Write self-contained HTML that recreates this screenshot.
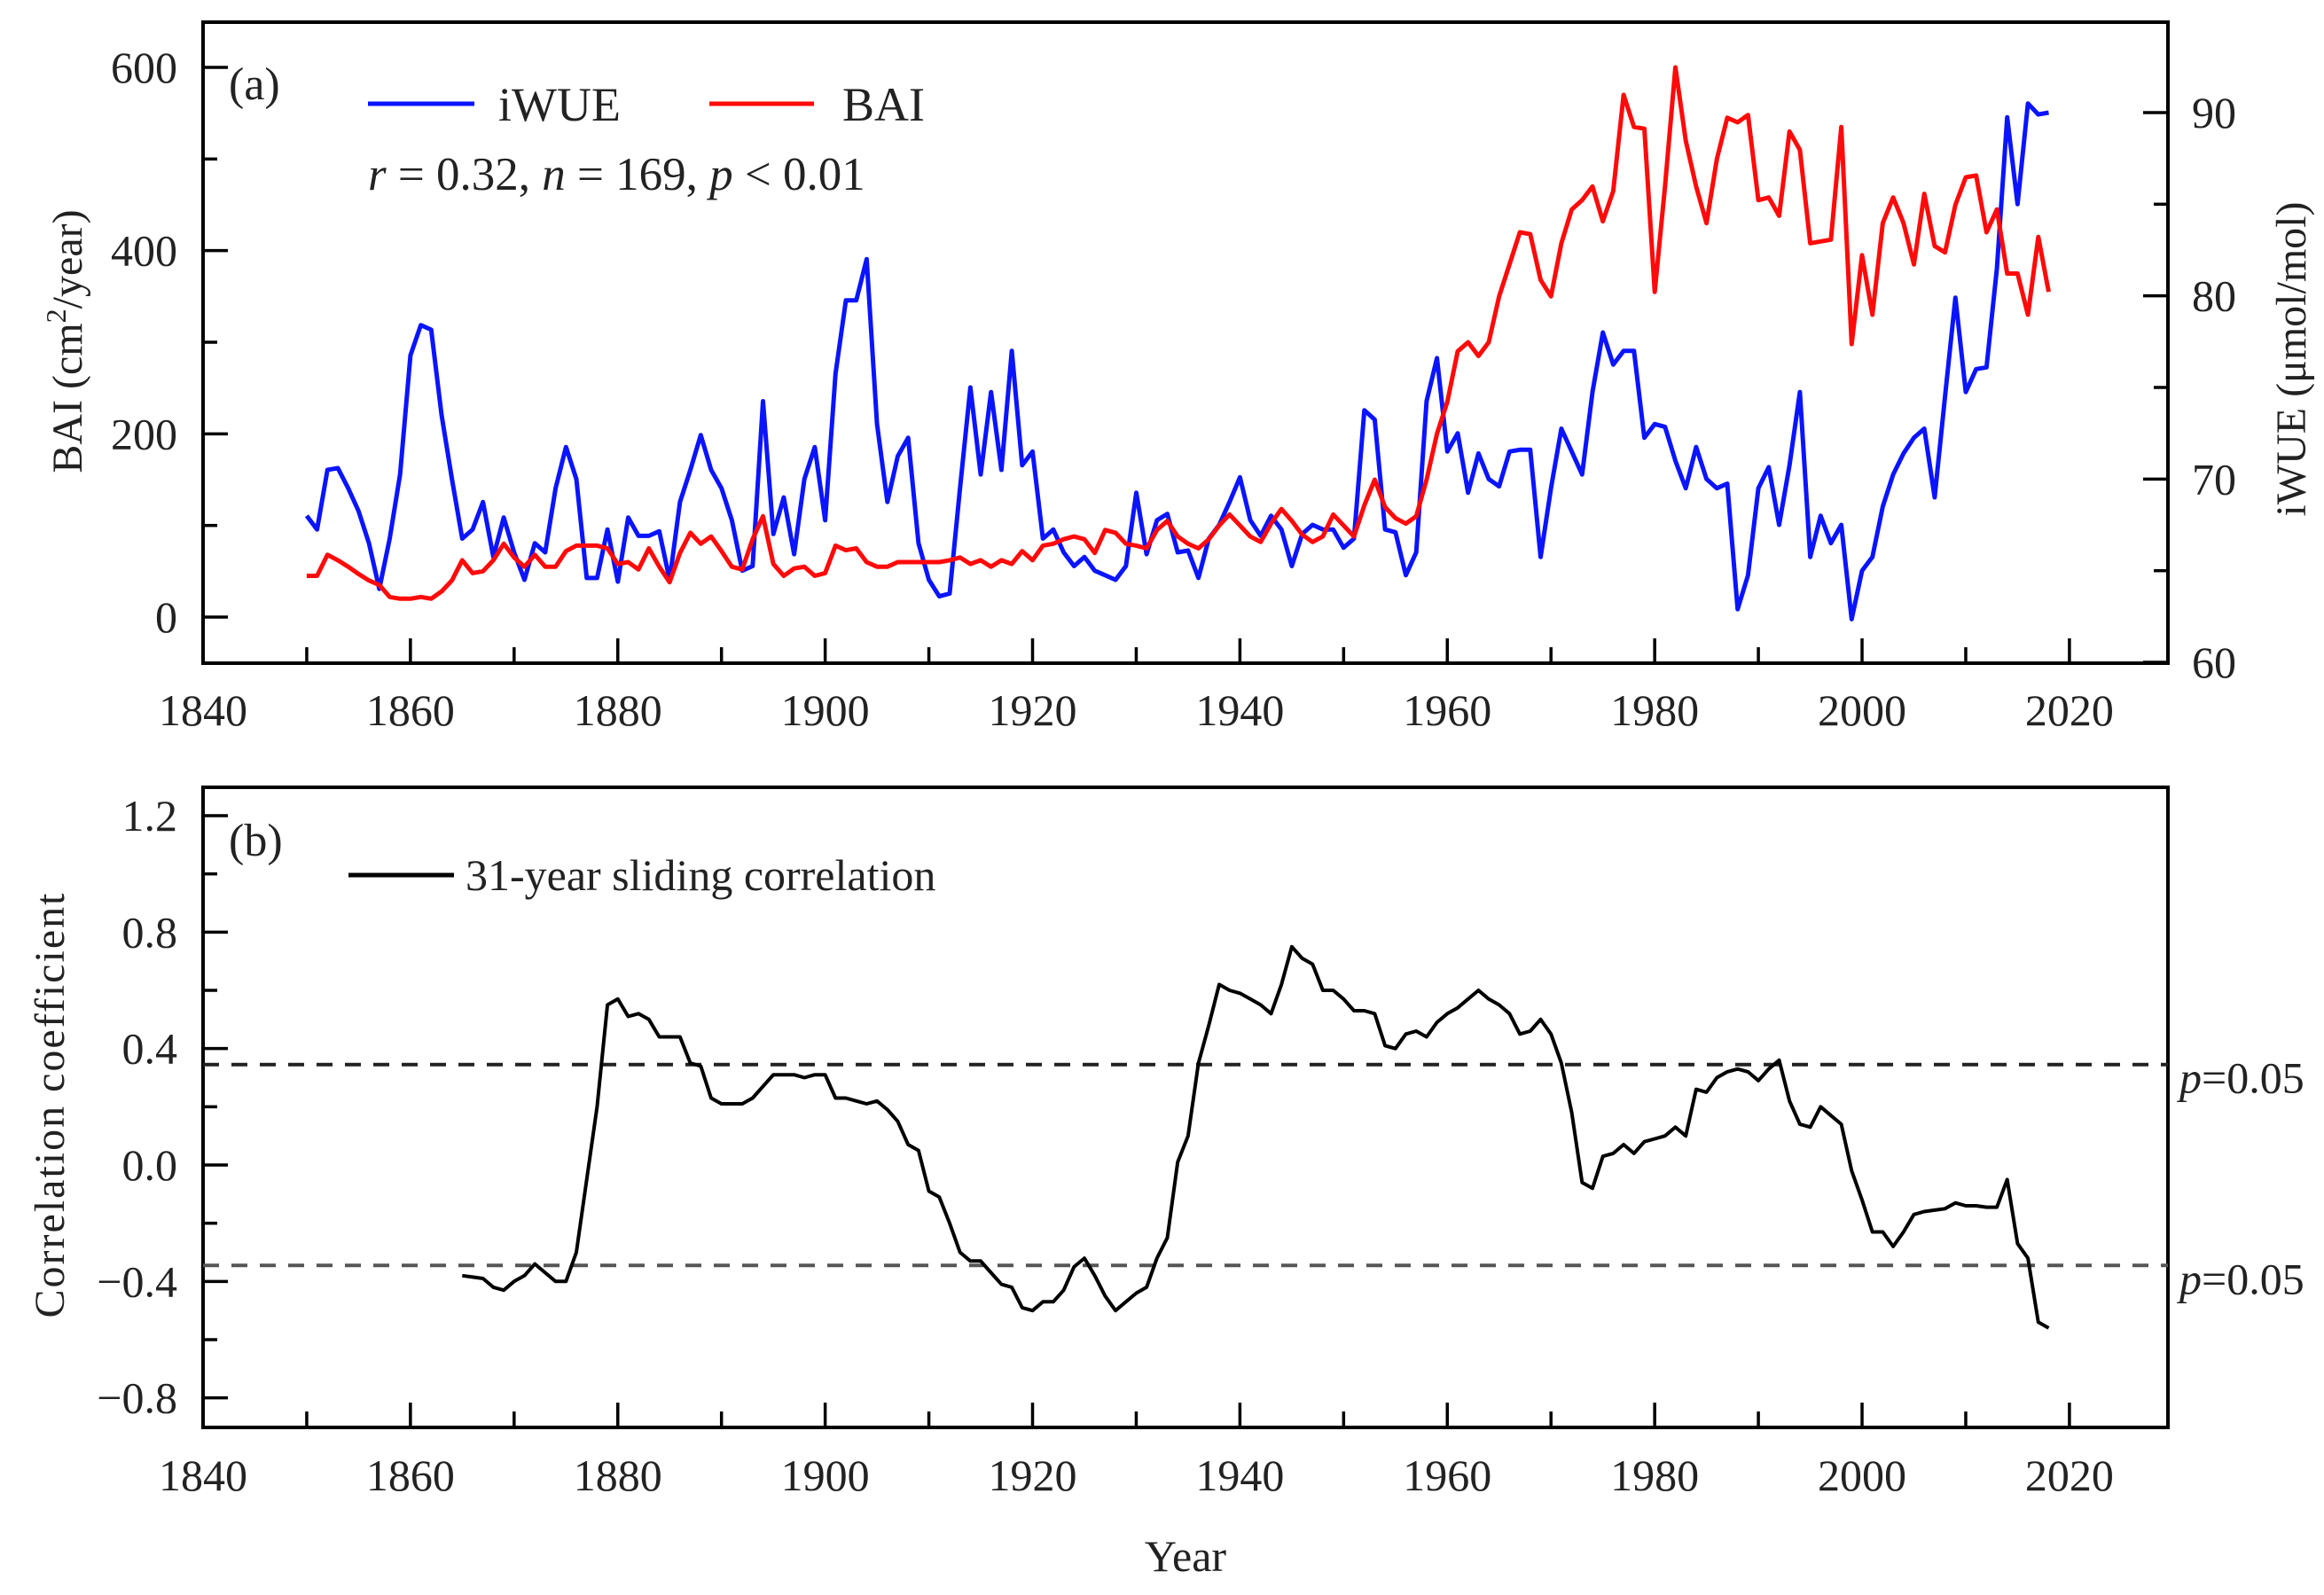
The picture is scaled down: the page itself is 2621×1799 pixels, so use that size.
<!DOCTYPE html>
<html><head><meta charset="utf-8"><style>
html,body{margin:0;padding:0;background:#fff;}
svg{display:block;font-family:"Liberation Serif",serif;}
</style></head><body>
<svg id="chart" width="2621" height="1799" viewBox="0 0 2621 1799" xmlns="http://www.w3.org/2000/svg">
<g id="panelA"></g>
<g id="panelB"></g>
</svg>
<script>
const startYearA = 1850;
const iwueValues = [68.0,67.25,70.5,70.6,69.5,68.25,66.5,64.0,66.75,70.25,76.75,78.4,78.15,73.5,70.0,66.75,67.25,68.75,65.75,67.9,66.0,64.5,66.5,66.0,69.5,71.75,70.0,64.6,64.6,67.25,64.4,67.9,66.9,66.9,67.15,64.5,68.75,70.5,72.4,70.5,69.5,67.75,65.0,65.25,74.25,67.0,69.0,65.9,70.0,71.75,67.75,75.75,79.75,79.75,82.0,73.0,68.75,71.25,72.25,66.5,64.5,63.6,63.75,69.5,75.0,70.25,74.75,70.5,77.0,70.75,71.5,66.75,67.25,66.0,65.25,65.75,65.0,64.75,64.5,65.25,69.25,65.9,67.75,68.1,66.0,66.1,64.6,66.75,67.5,68.75,70.1,67.75,66.9,68.0,67.25,65.25,67.0,67.5,67.25,67.25,66.25,66.75,73.75,73.25,67.25,67.1,64.75,66.0,74.25,76.6,71.5,72.5,69.25,71.4,70.0,69.6,71.5,71.6,71.6,65.75,69.5,72.75,71.5,70.25,74.75,78.0,76.25,77.0,77.0,72.25,73.0,72.85,71.0,69.5,71.75,70.0,69.5,69.75,62.9,64.75,69.5,70.65,67.5,70.75,74.75,65.75,68.0,66.5,67.5,62.35,65.0,65.75,68.5,70.25,71.4,72.25,72.75,69.0,74.5,79.9,74.75,76.0,76.1,81.5,89.75,85.0,90.5,89.9,90.0];
const baiValues = [45,45,68,62,55,47,40,35,22,20,20,22,20,28,40,62,48,50,62,80,65,55,68,55,55,72,78,78,78,75,58,60,52,75,55,38,70,92,80,88,72,55,52,85,110,58,45,53,55,45,48,78,73,75,60,55,55,60,60,60,60,60,62,65,58,62,55,62,58,72,62,78,80,85,88,85,70,95,92,80,78,75,95,105,88,80,75,85,100,112,100,88,82,102,118,105,90,82,88,112,100,88,122,150,120,108,102,110,150,200,235,290,300,285,300,350,385,420,418,368,350,408,445,455,470,432,465,570,535,533,355,470,600,520,470,430,500,545,540,548,455,458,438,530,510,408,410,412,535,298,395,330,430,458,430,385,462,405,398,450,480,482,420,445,375,375,330,415,355];
const startYearB = 1865;
const corrValues = [-0.38,-0.385,-0.39,-0.42,-0.43,-0.40,-0.38,-0.34,-0.37,-0.40,-0.40,-0.30,-0.05,0.20,0.55,0.57,0.51,0.52,0.50,0.44,0.44,0.44,0.35,0.34,0.23,0.21,0.21,0.21,0.23,0.27,0.31,0.31,0.31,0.30,0.31,0.31,0.23,0.23,0.22,0.21,0.22,0.19,0.15,0.07,0.05,-0.09,-0.11,-0.20,-0.30,-0.33,-0.33,-0.37,-0.41,-0.42,-0.49,-0.50,-0.47,-0.47,-0.43,-0.35,-0.32,-0.38,-0.45,-0.50,-0.47,-0.44,-0.42,-0.32,-0.25,0.01,0.10,0.35,0.48,0.62,0.60,0.59,0.57,0.55,0.52,0.62,0.75,0.71,0.69,0.60,0.60,0.57,0.53,0.53,0.52,0.41,0.40,0.45,0.46,0.44,0.49,0.52,0.54,0.57,0.60,0.57,0.55,0.52,0.45,0.46,0.50,0.45,0.35,0.18,-0.06,-0.08,0.03,0.04,0.07,0.04,0.08,0.09,0.10,0.13,0.10,0.26,0.25,0.30,0.32,0.33,0.32,0.29,0.33,0.36,0.22,0.14,0.13,0.20,0.17,0.14,-0.02,-0.12,-0.23,-0.23,-0.28,-0.23,-0.17,-0.16,-0.155,-0.15,-0.13,-0.14,-0.14,-0.145,-0.145,-0.05,-0.27,-0.32,-0.54,-0.56];
const xTickLabels = [1840,1860,1880,1900,1920,1940,1960,1980,2000,2020];
const baiTicks = [0,200,400,600];
const iwueTicks = [60,70,80,90];
const corrTicks = [-0.8,-0.4,0.0,0.4,0.8,1.2];
const sigLevels = [0.345,-0.345];

const NS="http://www.w3.org/2000/svg";
function mk(parent,tag,attrs,text){const e=document.createElementNS(NS,tag);for(const k in attrs)e.setAttribute(k,attrs[k]);if(text!==undefined)e.textContent=text;parent.appendChild(e);return e;}
const L=229,R=2445;
const xs=y=>L+(y-1840)*(R-L)/(2029.5-1840);
const aT=25,aB=748;
const yBai=v=>696-v*(620/600);
const yIw=v=>747-(v-60)*(620/30);
const bT=888,bB=1610;
const yC=v=>1314-v*(394/1.2);
const FS=50;

const gA=document.getElementById('panelA'), gB=document.getElementById('panelB');
function frame(g,t,b){const r=mk(g,'rect',{x:L,y:t,width:R-L,height:b-t,fill:'none',stroke:'#000','stroke-width':4});}
function xAxis(g,b,ly){
  for(let y=1850;y<=2020;y+=10){const len=(y%20===0)?28:18;const t=mk(g,'line',{x1:xs(y),x2:xs(y),y1:b,y2:b-len,stroke:'#000','stroke-width':3.5});}
  xTickLabels.forEach(v=>{const t=mk(g,'text',{x:xs(v),y:ly,'font-size':FS,'text-anchor':'middle',fill:'#222'},v);});
}
function pathFrom(vals,start,xf,yf){return vals.map((v,i)=>(i?'L':'M')+xf(start+i).toFixed(1)+','+yf(v).toFixed(1)).join(' ');}

frame(gA,aT,aB);
xAxis(gA,aB,818);
for(let v=0;v<=600;v+=100){const len=v%200===0?28:16;const t=mk(gA,'line',{x1:L,x2:L+len,y1:yBai(v),y2:yBai(v),stroke:'#000','stroke-width':3.5});}
baiTicks.forEach(v=>{const t=mk(gA,'text',{x:200,y:yBai(v)+17,'font-size':FS,'text-anchor':'end',fill:'#222'},v);});
for(let v=60;v<=90;v+=5){const len=v%10===0?28:16;const t=mk(gA,'line',{x1:R,x2:R-len,y1:yIw(v),y2:yIw(v),stroke:'#000','stroke-width':3.5});}
iwueTicks.forEach(v=>{const t=mk(gA,'text',{x:2472,y:yIw(v)+17,'font-size':FS,fill:'#222'},v);});
let t1=mk(gA,'text',{transform:'translate(92,385) rotate(-90)','font-size':48,'text-anchor':'middle',fill:'#222'});
t1.innerHTML='BAI (cm<tspan dy="-18" font-size="32">2</tspan><tspan dy="18">/year)</tspan>';

let t2=mk(gA,'text',{transform:'translate(2600,405) rotate(-90)','font-size':48,'text-anchor':'middle',fill:'#222'},'iWUE (μmol/mol)');

let la=mk(gA,'text',{x:258,y:112,'font-size':52,fill:'#222'},'(a)');
let ib=mk(gA,'path',{d:pathFrom(iwueValues,startYearA,xs,yIw),fill:'none',stroke:'#0a14ff','stroke-width':5,'stroke-linejoin':'round'});

let rb=mk(gA,'path',{d:pathFrom(baiValues,startYearA,xs,yBai),fill:'none',stroke:'#ff0a0a','stroke-width':5,'stroke-linejoin':'round'});

let lg1=mk(gA,'line',{x1:415,x2:535,y1:117,y2:117,stroke:'#0a14ff','stroke-width':5});
let lt1=mk(gA,'text',{x:562,y:136,'font-size':54,fill:'#222'},'iWUE');
let lg2=mk(gA,'line',{x1:800,x2:918,y1:117,y2:117,stroke:'#ff0a0a','stroke-width':5});
let lt2=mk(gA,'text',{x:950,y:136,'font-size':54,fill:'#222'},'BAI');
let st=mk(gA,'text',{x:415,y:214,'font-size':53,fill:'#222'});
st.innerHTML='<tspan font-style="italic">r</tspan> = 0.32, <tspan font-style="italic">n</tspan> = 169,  <tspan font-style="italic">p</tspan> &lt; 0.01';


frame(gB,bT,bB);
xAxis(gB,bB,1681);
for(let k=-8;k<=12;k+=2){const v=k/10;const len=(k%4===0)?28:16;const t=mk(gB,'line',{x1:L,x2:L+len,y1:yC(v),y2:yC(v),stroke:'#000','stroke-width':3.5});}
corrTicks.forEach(v=>{const s=v<0?'−'+Math.abs(v).toFixed(1):v.toFixed(1);const t=mk(gB,'text',{x:200,y:yC(v)+17,'font-size':FS,'text-anchor':'end',fill:'#222'},s);});
sigLevels.forEach((v,i)=>{const d=mk(gB,'line',{x1:L,x2:R,y1:yC(v),y2:yC(v),stroke:i?'#555':'#222','stroke-width':4,'stroke-dasharray':'18 14'});
 const t=mk(gB,'text',{x:2458,y:yC(v)+32,'font-size':50,fill:'#222'});t.innerHTML='<tspan font-style="italic">p</tspan>=0.05';});
let cl=mk(gB,'path',{d:pathFrom(corrValues,startYearB,xs,yC),fill:'none',stroke:'#000','stroke-width':4,'stroke-linejoin':'round'});

let lb=mk(gB,'text',{x:258,y:965,'font-size':52,fill:'#222'},'(b)');
let lg3=mk(gB,'line',{x1:393,x2:512,y1:987,y2:987,stroke:'#000','stroke-width':5});
let lt3=mk(gB,'text',{x:525,y:1004,'font-size':50,fill:'#222'},'31-year sliding correlation');
let cy=mk(gB,'text',{transform:'translate(72,1246) rotate(-90)','font-size':48,'text-anchor':'middle',fill:'#222','letter-spacing':'2'},'Correlation coefficient');

let xt=mk(gB,'text',{x:1337,y:1772,'font-size':50,'text-anchor':'middle',fill:'#222'},'Year');

</script>
</body></html>
